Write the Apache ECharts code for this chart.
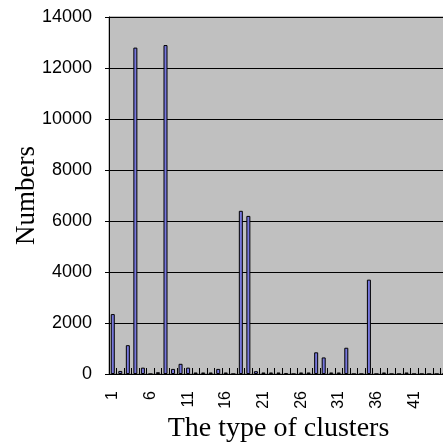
<!DOCTYPE html>
<html>
<head>
<meta charset="utf-8">
<script src="https://cdn.jsdelivr.net/npm/echarts@6/dist/echarts.min.js"></script>
<style>html,body{margin:0;padding:0;background:#fff;}#c{width:443px;height:443px;}</style>
</head>
<body>
<div id="c"></div>
<script>
var categories = [];
for (var i = 1; i <= 45; i++) categories.push(String(i));
var values = [2350, 120, 1130, 12800, 250, 0, 70, 12900, 200, 400,
              250, 60, 60, 60, 200, 60, 0, 6400, 6200, 110,
              60, 60, 60, 40, 0, 60, 60, 850, 650, 60,
              60, 1030, 0, 0, 3700, 0, 60, 0, 0, 60,
              0, 0, 0, 0, 0];
var yTicks = { min: 0, max: 14000, interval: 2000 };
var xTitle = 'The type of clusters';
var yTitle = 'Numbers';

var chart = echarts.init(document.getElementById('c'), null, {renderer: 'canvas'});
chart.setOption({
  animation: false,
  backgroundColor: '#ffffff',
  grid: {
    left: 109, top: 17, bottom: 69, right: -5,
    show: true, backgroundColor: '#C0C0C0', borderColor: '#808080', borderWidth: 1,
    containLabel: false,
    outerBoundsMode: 'none'
  },
  xAxis: {
    type: 'category',
    data: categories,
    boundaryGap: true,
    name: xTitle,
    nameLocation: 'middle',
    nameGap: 41,
    nameMoveOverlap: false,
    nameTextStyle: { fontFamily: 'Liberation Serif', fontSize: 28, color: '#000' },
    axisLine: { show: true, lineStyle: { color: '#000', width: 1 } },
    axisTick: { show: true, inside: true, length: 6, interval: 0, lineStyle: { color: '#000' } },
    axisLabel: { interval: 4, rotate: 90, margin: 17, fontFamily: 'Liberation Sans', fontSize: 16, color: '#000' },
    splitLine: { show: false }
  },
  yAxis: {
    type: 'value',
    min: yTicks.min, max: yTicks.max, interval: yTicks.interval,
    name: yTitle,
    nameLocation: 'middle',
    nameGap: 69,
    nameMoveOverlap: false,
    nameTextStyle: { fontFamily: 'Liberation Serif', fontSize: 27, color: '#000' },
    axisLine: { show: true, lineStyle: { color: '#000', width: 1 } },
    axisTick: { show: true, inside: false, length: 4, lineStyle: { color: '#000' } },
    axisLabel: { margin: 17, fontFamily: 'Liberation Sans', fontSize: 18, color: '#000',
                 formatter: function (v) { return String(v); } },
    splitLine: { show: true, lineStyle: { color: '#000', width: 1 } }
  },
  series: [{
    type: 'bar',
    data: values,
    barWidth: 4,
    itemStyle: { color: '#7777DD', borderColor: '#000', borderWidth: 1 }
  }]
});
</script>
</body>
</html>
